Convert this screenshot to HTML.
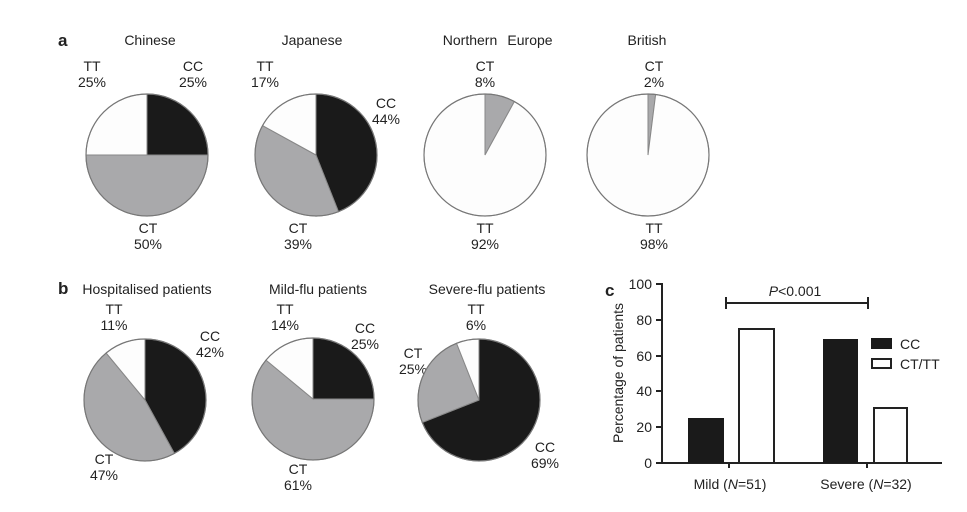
<!DOCTYPE html>
<html><head><meta charset="utf-8"><style>
body{margin:0;background:#fff;width:967px;height:507px;overflow:hidden;font-family:"Liberation Sans",sans-serif}
svg text{font-family:"Liberation Sans",sans-serif;font-size:14px;fill:#222}
</style></head><body>
<svg id="s" width="967" height="507" xmlns="http://www.w3.org/2000/svg">
<text x="58" y="46" style="font-weight:bold;font-size:17px">a</text>
<text x="58" y="294" style="font-weight:bold;font-size:17px">b</text>
<text x="605" y="296" style="font-weight:bold;font-size:17px">c</text>
<g text-anchor="middle">
<text x="150" y="45">Chinese</text>
<text x="312" y="45">Japanese</text>
<text x="470" y="45">Northern</text><text x="530" y="45">Europe</text>
<text x="647" y="45">British</text>
<text x="92" y="71">TT</text><text x="92" y="87">25%</text>
<text x="193" y="71">CC</text><text x="193" y="87">25%</text>
<text x="148" y="233">CT</text><text x="148" y="249">50%</text>
<text x="265" y="71">TT</text><text x="265" y="87">17%</text>
<text x="386" y="108">CC</text><text x="386" y="124">44%</text>
<text x="298" y="233">CT</text><text x="298" y="249">39%</text>
<text x="485" y="71">CT</text><text x="485" y="87">8%</text>
<text x="485" y="233">TT</text><text x="485" y="249">92%</text>
<text x="654" y="71">CT</text><text x="654" y="87">2%</text>
<text x="654" y="233">TT</text><text x="654" y="249">98%</text>
<text x="147" y="294">Hospitalised patients</text>
<text x="318" y="294">Mild-flu patients</text>
<text x="487" y="294">Severe-flu patients</text>
<text x="114" y="314">TT</text><text x="114" y="330">11%</text>
<text x="210" y="341">CC</text><text x="210" y="357">42%</text>
<text x="104" y="464">CT</text><text x="104" y="480">47%</text>
<text x="285" y="314">TT</text><text x="285" y="330">14%</text>
<text x="365" y="333">CC</text><text x="365" y="349">25%</text>
<text x="298" y="474">CT</text><text x="298" y="490">61%</text>
<text x="476" y="314">TT</text><text x="476" y="330">6%</text>
<text x="413" y="358">CT</text><text x="413" y="374">25%</text>
<text x="545" y="452">CC</text><text x="545" y="468">69%</text>
</g>
<g stroke="#222" stroke-width="2" fill="none">
<line x1="662" y1="283" x2="662" y2="464"/>
<line x1="661" y1="463" x2="942" y2="463"/>
<line x1="656" y1="284" x2="662" y2="284"/><line x1="656" y1="320" x2="662" y2="320"/>
<line x1="656" y1="356" x2="662" y2="356"/><line x1="656" y1="391" x2="662" y2="391"/>
<line x1="656" y1="427" x2="662" y2="427"/><line x1="656" y1="463" x2="662" y2="463"/>
<line x1="729" y1="463" x2="729" y2="468"/><line x1="867" y1="463" x2="867" y2="468"/>
<line x1="726" y1="303" x2="868" y2="303"/>
<line x1="726" y1="297" x2="726" y2="309"/><line x1="868" y1="297" x2="868" y2="309"/>
</g>
<rect x="688" y="418" width="36" height="45" fill="#1a1a1a"/>
<rect x="739" y="329" width="35" height="134" fill="#fff" stroke="#222" stroke-width="2"/>
<rect x="823" y="339" width="35" height="124" fill="#1a1a1a"/>
<rect x="874" y="408" width="33" height="55" fill="#fff" stroke="#222" stroke-width="2"/>
<rect x="871" y="338" width="21" height="11" fill="#1a1a1a"/>
<rect x="872" y="359" width="19" height="9" fill="#fff" stroke="#222" stroke-width="2"/>
<text x="900" y="349">CC</text><text x="900" y="369">CT/TT</text>
<g text-anchor="end"><text x="652" y="289">100</text><text x="652" y="325">80</text><text x="652" y="361">60</text><text x="652" y="396">40</text><text x="652" y="432">20</text><text x="652" y="468">0</text></g>
<text x="795" y="296" text-anchor="middle"><tspan font-style="italic">P</tspan>&lt;0.001</text>
<text x="730" y="489" text-anchor="middle">Mild (<tspan font-style="italic">N</tspan>=51)</text>
<text x="866" y="489" text-anchor="middle">Severe (<tspan font-style="italic">N</tspan>=32)</text>
<text transform="translate(623,373) rotate(-90)" text-anchor="middle">Percentage of patients</text>
</svg>
<script>
var s=document.getElementById('s');
var C={CC:'#1a1a1a',CT:'#a9a9ab',TT:'#fdfdfd'};
function pie(cx,cy,r,parts){
 var a=0,ns='http://www.w3.org/2000/svg';
 parts.forEach(function(p){
  var f=p[1]/100,a2=a+f*2*Math.PI;
  var x1=cx+r*Math.sin(a),y1=cy-r*Math.cos(a),x2=cx+r*Math.sin(a2),y2=cy-r*Math.cos(a2);
  var e=document.createElementNS(ns,'path');
  e.setAttribute('d','M'+cx+','+cy+'L'+x1+','+y1+'A'+r+','+r+' 0 '+(f>0.5?1:0)+' 1 '+x2+','+y2+'Z');
  e.setAttribute('fill',C[p[0]]);e.setAttribute('stroke','#888');e.setAttribute('stroke-width','1');
  s.appendChild(e);a=a2;
 });
 var c=document.createElementNS(ns,'circle');
 c.setAttribute('cx',cx);c.setAttribute('cy',cy);c.setAttribute('r',r);c.setAttribute('fill','none');c.setAttribute('stroke','#777');c.setAttribute('stroke-width','1.2');
 s.appendChild(c);
}
pie(147,155,61,[['CC',25],['CT',50],['TT',25]]);
pie(316,155,61,[['CC',44],['CT',39],['TT',17]]);
pie(485,155,61,[['CT',8],['TT',92]]);
pie(648,155,61,[['CT',2],['TT',98]]);
pie(145,400,61,[['CC',42],['CT',47],['TT',11]]);
pie(313,399,61,[['CC',25],['CT',61],['TT',14]]);
pie(479,400,61,[['CC',69],['CT',25],['TT',6]]);
</script>
</body></html>
